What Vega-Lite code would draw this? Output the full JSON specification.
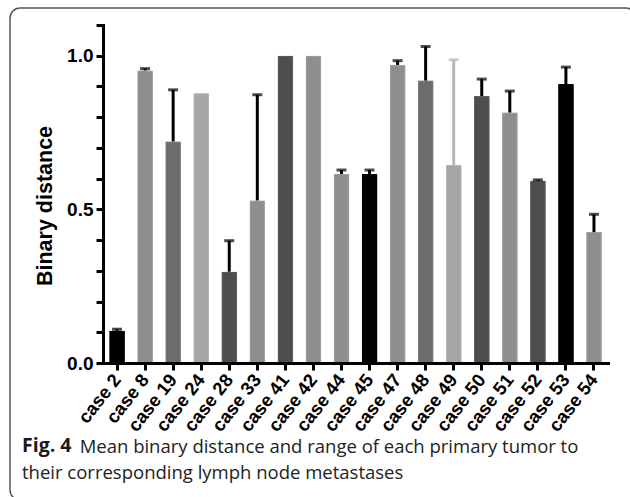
{
  "$schema": "https://vega.github.io/schema/vega-lite/v6.json",
  "autosize": "none",
  "width": 626,
  "height": 492,
  "padding": {"left": 10, "top": 8, "right": 0, "bottom": 0},
  "background": "white",
  "config": {
    "view": {"stroke": "#555555", "strokeWidth": 1.5, "cornerRadius": 10, "fill": "white"}
  },
  "title": {
    "text": "Fig. 4",
    "subtitle": ["\u200b\u00a0\u00a0\u00a0\u00a0\u00a0\u00a0\u00a0\u00a0\u00a0\u00a0\u00a0\u00a0Mean binary distance and range of each primary tumor to", "their corresponding lymph node metastases"],
    "orient": "bottom",
    "anchor": "start",
    "frame": "group",
    "offset": -63,
    "dx": 12,
    "font": "Open Sans",
    "fontSize": 19.5,
    "fontWeight": "bold",
    "color": "#1a1a1a",
    "subtitleFont": "Open Sans",
    "subtitleFontSize": 18.5,
    "subtitleFontWeight": "normal",
    "subtitleColor": "#222222",
    "subtitlePadding": -19,
    "subtitleLineHeight": 26
  },
  "data": {
    "values": [
      {"case": "case 2", "mean": 0.105, "upper": 0.11, "group": "black"},
      {"case": "case 8", "mean": 0.952, "upper": 0.958, "group": "g1"},
      {"case": "case 19", "mean": 0.721, "upper": 0.889, "group": "g2"},
      {"case": "case 24", "mean": 0.878, "upper": null, "group": "g3"},
      {"case": "case 28", "mean": 0.297, "upper": 0.398, "group": "g4"},
      {"case": "case 33", "mean": 0.529, "upper": 0.873, "group": "g1"},
      {"case": "case 41", "mean": 1.0, "upper": null, "group": "g4"},
      {"case": "case 42", "mean": 1.0, "upper": null, "group": "g1"},
      {"case": "case 44", "mean": 0.615, "upper": 0.628, "group": "g1"},
      {"case": "case 45", "mean": 0.615, "upper": 0.628, "group": "black"},
      {"case": "case 47", "mean": 0.970, "upper": 0.984, "group": "g1"},
      {"case": "case 48", "mean": 0.919, "upper": 1.030, "group": "g2"},
      {"case": "case 49", "mean": 0.644, "upper": 0.987, "group": "g3"},
      {"case": "case 50", "mean": 0.869, "upper": 0.924, "group": "g4"},
      {"case": "case 51", "mean": 0.815, "upper": 0.885, "group": "g1"},
      {"case": "case 52", "mean": 0.593, "upper": 0.596, "group": "g4"},
      {"case": "case 53", "mean": 0.908, "upper": 0.963, "group": "black"},
      {"case": "case 54", "mean": 0.426, "upper": 0.484, "group": "g1"}
    ]
  },
  "layer": [
    {
      "mark": {"type": "bar", "strokeWidth": 2, "cornerRadius": 1},
      "encoding": {
        "x": {
          "field": "case", "type": "nominal", "sort": null, "title": null,
          "scale": {"type": "band", "range": [93, 598], "paddingInner": 0.45, "paddingOuter": 0.225},
          "axis": {
            "labelAngle": -52, "offset": -137,
            "domainWidth": 3, "domainColor": "#000000", "domainCap": "square",
            "tickWidth": 3, "tickSize": 7, "tickColor": "#000000",
            "labelFont": "Liberation Sans", "labelFontWeight": "bold", "labelFontSize": 18.5,
            "labelColor": "#000000", "labelPadding": 6, "labelOverlap": false, "zindex": 1
          }
        },
        "y": {
          "field": "mean", "type": "quantitative", "title": "Binary distance",
          "scale": {"domain": [0, 1.1], "range": [355, 17], "nice": false, "zero": true},
          "axis": {
            "values": [0, 0.1, 0.2, 0.3, 0.4, 0.5, 0.6, 0.7, 0.8, 0.9, 1, 1.1],
            "labelExpr": "datum.value == 0 || datum.value == 0.5 || datum.value == 1 ? format(datum.value, '.1f') : ''",
            "offset": -93, "grid": false,
            "domainWidth": 3, "domainColor": "#000000", "domainCap": "square",
            "ticks": true, "tickWidth": 3, "tickSize": 7, "tickColor": "#000000", "tickOpacity": 1,
            "labelFont": "Liberation Sans", "labelFontWeight": "bold", "labelFontSize": 19,
            "labelColor": "#000000", "labelPadding": 3, "labelOverlap": false,
            "titleFont": "Liberation Sans", "titleFontWeight": "bold", "titleFontSize": 21.5,
            "titleColor": "#000000", "titlePadding": 10, "titleY": 197.5, "zindex": 1
          }
        },
        "fill": {
          "field": "group", "type": "nominal", "legend": null,
          "scale": {"domain": ["black", "g1", "g2", "g3", "g4"], "range": ["#000000", "#8e8e8e", "#6c6c6c", "#a6a6a6", "#4e4e4e"]}
        },
        "stroke": {
          "field": "group", "type": "nominal", "legend": null,
          "scale": {"domain": ["black", "g1", "g2", "g3", "g4"], "range": ["#000000", "#a0a0a0", "#7e7e7e", "#b4b4b4", "#5e5e5e"]}
        }
      }
    },
    {
      "transform": [{"filter": "datum.upper != null"}],
      "mark": {"type": "rule", "strokeWidth": 3},
      "encoding": {
        "x": {"field": "case", "type": "nominal", "sort": null, "title": null},
        "y": {"field": "mean", "type": "quantitative", "title": "Binary distance"},
        "y2": {"field": "upper"},
        "color": {"condition": {"test": "datum.group === 'g3'", "value": "#b8b8b8"}, "value": "#000000"}
      }
    },
    {
      "transform": [{"filter": "datum.upper != null"}],
      "mark": {"type": "tick", "thickness": 3, "size": 10},
      "encoding": {
        "x": {"field": "case", "type": "nominal", "sort": null, "title": null},
        "y": {"field": "upper", "type": "quantitative", "title": "Binary distance"},
        "color": {"condition": {"test": "datum.group === 'g3'", "value": "#b8b8b8"}, "value": "#000000"}
      }
    }
  ]
}
